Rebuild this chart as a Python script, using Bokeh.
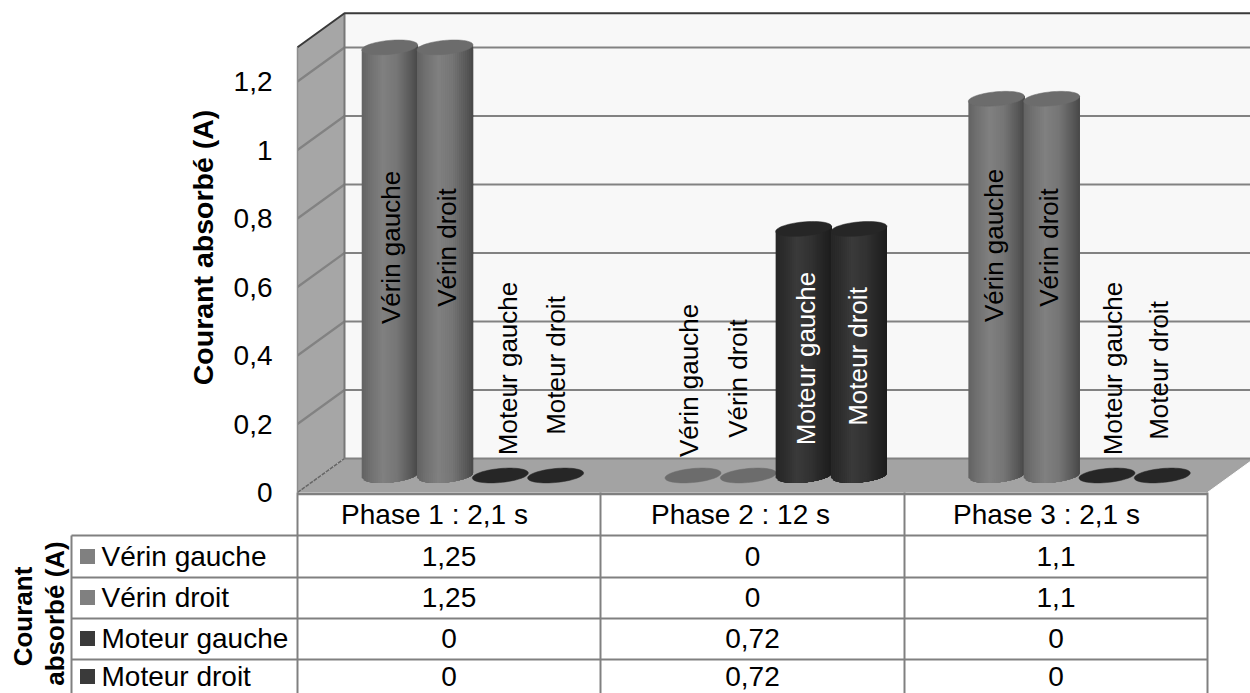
import numpy as np
from bokeh.core.properties import value
from bokeh.embed import file_html
from bokeh.models import Range1d
from bokeh.plotting import figure
from bokeh.resources import INLINE

# Chart content
phases = ["Phase 1 : 2,1 s", "Phase 2 : 12 s", "Phase 3 : 2,1 s"]
series_names = ["Vérin gauche", "Vérin droit", "Moteur gauche", "Moteur droit"]
verin_gauche = [1.25, 0, 1.1]
verin_droit = [1.25, 0, 1.1]
moteur_gauche = [0, 0.72, 0]
moteur_droit = [0, 0.72, 0]
series_values = [verin_gauche, verin_droit, moteur_gauche, moteur_droit]
y_ticks = [0, 0.2, 0.4, 0.6, 0.8, 1, 1.2]
y_title = "Courant absorbé (A)"

# Layout: one value unit and one phase width, in pixels
PX_X, PX_Y = 303.33, 342.5
X0, Y0 = 297, 492
W, H = 1250, 693
FONT = value("Liberation Sans")


def X(px):
    return (np.asarray(px, dtype=float) - X0) / PX_X


def Y(py):
    return (Y0 - np.asarray(py, dtype=float)) / PX_Y


DX, DY = 47 / PX_X, 34 / PX_Y  # depth of the 3D box
Y_MAX = 1.3
STEP = 55.3 / PX_X
RADIUS = 28 / PX_X
CAP = 7 / PX_Y
TILT = 2.5 / PX_Y

p = figure(width=W, height=H, output_backend="svg", toolbar_location=None,
           x_range=Range1d(X(0), X(W)), y_range=Range1d(Y(H), Y(0)),
           x_axis_location=None, y_axis_location=None, min_border=0,
           outline_line_color=None, background_fill_color="white",
           border_fill_color="white")
p.grid.visible = False

GRID = "#828282"
RIGHT = 3 + DX * 2
# Back wall, side wall and floor
p.patch([DX, RIGHT, RIGHT, DX], [DY, DY, Y_MAX + DY, Y_MAX + DY],
        fill_color="#f8f8f8", line_color=None)
p.patch([0, DX, DX, 0], [0, DY, Y_MAX + DY, Y_MAX], fill_color="#a6a6a6", line_color=None)
p.patch([0, 3, 3 + DX, DX], [0, 0, DY, DY], fill_color="#a3a3a3", line_color=None)

# Value gridlines running along the side wall and across the back wall
for t in y_ticks[1:]:
    p.line([0, DX, RIGHT], [t, t + DY, t + DY], line_color=GRID, line_width=2.2)
p.line([DX, RIGHT], [DY, DY], line_color=GRID, line_width=2)
p.line([0, DX], [0, DY], line_color="#666666", line_width=1.5, line_dash="4 1")
p.line([3, 3 + DX], [0, DY], line_color="#ffffff", line_width=1)
p.line([DX, DX], [DY, Y_MAX + DY], line_color="#777777", line_width=2)
p.line([0, 0], [0, Y_MAX], line_color="#8c8c8c", line_width=1.5)
p.line([0, DX, RIGHT], [Y_MAX, Y_MAX + DY, Y_MAX + DY], line_color="#3a3a3a", line_width=2)

# Cylinder shading: brightness across the width of a column
shade_u = [-1.0, -0.7, -0.25, 0.25, 0.7, 1.0]
shade_verin = [98, 112, 128, 118, 92, 72]
shade_moteur = [38, 44, 58, 50, 36, 28]
cap_colors = ["#6c6c6c", "#6c6c6c", "#262626", "#262626"]
N_STRIPS = 28


def grey(level):
    g = int(round(level))
    return f"#{g:02x}{g:02x}{g:02x}"


for phase in range(len(phases)):
    for s, vals in enumerate(series_values):
        cx = phase + 0.5 + DX / 2 + (s - 1.5) * STEP
        base = DY / 2
        top = base + vals[phase]
        shades = shade_verin if s < 2 else shade_moteur
        edges = np.linspace(-1, 1, N_STRIPS + 1)
        if vals[phase] > 0:
            for a, b in zip(edges[:-1], edges[1:]):
                # every band runs to the right edge and is overdrawn by the next, so no seams show
                us = np.linspace(a, 1, 12)
                px = np.concatenate([cx + RADIUS * us, [cx + RADIUS, cx + RADIUS * a]])
                py = np.concatenate([base - CAP * np.sqrt(np.clip(1 - us * us, 0, 1)) + TILT * us,
                                     [top + TILT, top + TILT * a]])
                colour = grey(np.interp((a + b) / 2, shade_u, shades))
                p.patch(px, py, fill_color=colour, line_color=None)
        t = np.linspace(0, 2 * np.pi, 60)
        p.patch(cx + RADIUS * np.cos(t),
                top + CAP * np.sin(t) + TILT * np.cos(t),
                fill_color=cap_colors[s], line_color=cap_colors[s], line_width=0.5)

# Rotated name on each column: horizontal and vertical centre of the text, one row per phase
label_px = [[(390, 247), (446, 247), (507, 368), (555, 365)],
            [(688, 380), (737, 378), (805, 358), (857, 356)],
            [(993, 245), (1048, 247), (1112, 368), (1158, 370)]]
for phase, row in enumerate(label_px):
    for s, (lx, ly) in enumerate(row):
        inside = series_values[s][phase] > 0.5
        colour = "#ffffff" if inside and s >= 2 else "#000000"
        p.text([X(lx)], [Y(ly)], text=[series_names[s]], angle=np.pi / 2,
               text_align="center", text_baseline="middle", text_color=colour,
               text_font=FONT, text_font_size="26px")

# Value tick labels
p.text([X(272)] * len(y_ticks), y_ticks, text=[f"{t:g}".replace(".", ",") for t in y_ticks],
       text_align="right", text_baseline="middle", text_color="#000000",
       text_font=FONT, text_font_size="28px")
p.text([X(202)], [Y(247)], text=[y_title], angle=np.pi / 2, text_align="center",
       text_baseline="middle", text_color="#000000", text_font=FONT,
       text_font_size="28.5px", text_font_style="bold")

# Data table
row_lines = [535, 577, 618, 659]
col_lines = [X0, 600, 904, 1207]
TABLE = "#808080"
p.line(X([X0, 1207]), Y([493.5, 493.5]), line_color=TABLE, line_width=2.5)
for ry in row_lines:
    p.line(X([71, 1207]), Y([ry, ry]), line_color=TABLE, line_width=2)
p.line(X([71, 71]), Y([535, H]), line_color=TABLE, line_width=2)
for cx_px in col_lines:
    p.line(X([cx_px, cx_px]), Y([492, H]), line_color=TABLE, line_width=2)

col_mid = [(a + b) / 2 for a, b in zip(col_lines[:-1], col_lines[1:])]
header_mid = [434, 740, 1046]
p.text(X(header_mid), Y([514] * 3), text=phases, text_align="center", text_baseline="middle",
       text_color="#000000", text_font=FONT, text_font_size="28px")

row_mid = [556, 597, 638, 676]
key_colours = ["#808080", "#808080", "#3a3a3a", "#3a3a3a"]
for s, (ry, vals) in enumerate(zip(row_mid, series_values)):
    p.rect([X(87)], [Y(ry)], width=15 / PX_X, height=15 / PX_Y,
           fill_color=key_colours[s], line_color=None)
    p.text([X(101)], [Y(ry)], text=[series_names[s]], text_align="left", text_baseline="middle",
           text_color="#000000", text_font=FONT, text_font_size="28px")
    p.text(X(col_mid), Y([ry] * 3), text=[f"{v:g}".replace(".", ",") for v in vals],
           text_align="center", text_baseline="middle", text_color="#000000",
           text_font=FONT, text_font_size="28px")

# Table's series title, broken over two lines
p.text([X(22), X(54)], [Y(616), Y(613)], text=["Courant", "absorbé (A)"], angle=np.pi / 2,
       text_align="center", text_baseline="middle", text_color="#000000",
       text_font=FONT, text_font_size="26px", text_font_style="bold")

open("out.html", "w").write(file_html(p, INLINE))
